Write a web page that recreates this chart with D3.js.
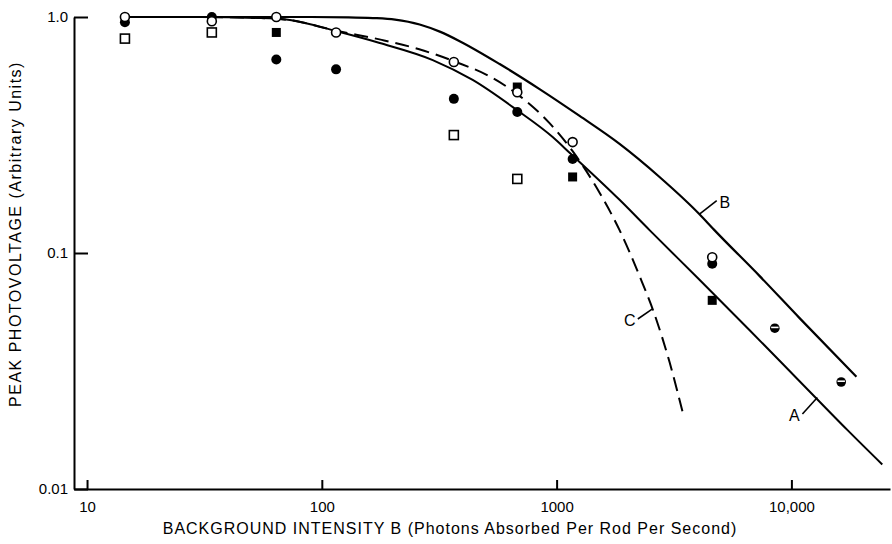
<!DOCTYPE html>
<html>
<head>
<meta charset="utf-8">
<script src="https://cdn.jsdelivr.net/npm/d3@7"></script>
<style>
  body { margin: 0; background: #fff; }
  svg { display: block; }
  text { font-family: "Liberation Sans", Arial, sans-serif; fill: #000; }
</style>
</head>
<body>
<svg id="chart" width="892" height="544"></svg>
<script>
// Axis ticks
const xTicks = [10, 100, 1000, 10000];
const xTickLabels = ["10", "100", "1000", "10,000"];
const yTicks = [0.01, 0.1, 1];
const yTickLabels = ["0.01", "0.1", "1.0"];

// Measured peak photovoltage vs background intensity, one array per symbol
const openCircles = [
  [14.5, 1.0], [34, 0.96], [64, 1.0], [115, 0.86], [365, 0.645],
  [680, 0.48], [1170, 0.295], [4600, 0.096]
];
const filledCircles = [
  [14.5, 0.95], [34, 1.0], [64, 0.66], [115, 0.60], [365, 0.45],
  [680, 0.396], [1170, 0.25], [4600, 0.09]
];
const openSquares = [
  [14.5, 0.81], [34, 0.86], [365, 0.316], [680, 0.206]
];
const filledSquares = [
  [64, 0.86], [680, 0.505], [1170, 0.21], [4600, 0.063]
];
const halfCircles = [
  [8500, 0.048], [16300, 0.0284]
];

// Theoretical curves A, B (solid) and C (dashed)
const curveA = [
  [14.5, 1.0], [30.3, 1.0], [54.5, 0.99], [73.1, 0.971], [114.7, 0.872],
  [176.5, 0.776], [296.8, 0.657], [439, 0.541], [676, 0.404], [962, 0.310],
  [1136, 0.266], [1854, 0.168], [2488, 0.125], [4060, 0.077], [6625, 0.0472],
  [10810, 0.0287], [17300, 0.0178], [24380, 0.0127]
];
const curveB = [
  [14.5, 1.0], [90, 1.0], [130, 0.997], [165, 0.99], [205, 0.975],
  [261, 0.930], [320, 0.865], [386.5, 0.790], [572, 0.632], [846, 0.495],
  [1253, 0.381], [1854, 0.290], [2744, 0.210], [4060, 0.146], [4701, 0.125],
  [7311, 0.080], [10810, 0.0531], [18920, 0.0299]
];
const curveC = [
  [14.5, 1.0], [30, 1.0], [55, 0.99], [73, 0.97], [115, 0.875],
  [180, 0.80], [260, 0.73], [372, 0.645], [519, 0.56], [682, 0.47],
  [933, 0.355], [1170, 0.27], [1524, 0.18], [1854, 0.125], [2254, 0.08],
  [2612, 0.055], [3027, 0.0345], [3436, 0.0213]
];

// Curve labels: text anchor and the point on the curve the leader touches
const curveLabels = [
  { name: "A", at: [10300, 0.0206], to: [12900, 0.0244] },
  { name: "B", at: [5200, 0.165], to: [4060, 0.146] },
  { name: "C", at: [2050, 0.052], to: [2560, 0.058] }
];

const svg = d3.select("#chart");

const x = d3.scaleLog().domain([8.8, 26300]).range([74, 890]);
const y = d3.scaleLog().domain([0.01, 1]).range([489, 17]);

// X axis (ticks point up into the plot)
const xAxis = d3.axisBottom(x)
  .tickValues(xTicks)
  .tickFormat((d, i) => xTickLabels[i])
  .tickSizeInner(-9)
  .tickSizeOuter(0)
  .tickPadding(12);

const gx = svg.append("g")
  .attr("transform", `translate(0,${y(0.01)})`)
  .call(xAxis);
gx.select(".domain").attr("stroke", "#000").attr("stroke-width", 2);
gx.selectAll(".tick line").attr("stroke", "#000").attr("stroke-width", 2);
gx.selectAll(".tick text")
  .style("font-family", "'Liberation Sans', Arial, sans-serif")
  .attr("font-size", 15);

// Y axis (ticks point right into the plot)
const yAxis = d3.axisLeft(y)
  .tickValues(yTicks)
  .tickFormat((d, i) => yTickLabels[i])
  .tickSizeInner(-14)
  .tickSizeOuter(0)
  .tickPadding(6);

const gy = svg.append("g")
  .attr("transform", `translate(${x(8.8)},0)`)
  .call(yAxis);
gy.select(".domain").attr("stroke", "#000").attr("stroke-width", 2);
gy.selectAll(".tick line").attr("stroke", "#000").attr("stroke-width", 2);
gy.selectAll(".tick text")
  .style("font-family", "'Liberation Sans', Arial, sans-serif")
  .attr("font-size", 15);

// Axis titles
svg.append("text")
  .attr("x", 450).attr("y", 534)
  .attr("text-anchor", "middle")
  .attr("font-size", 16)
  .attr("letter-spacing", 1.0)
  .text("BACKGROUND  INTENSITY  B  (Photons Absorbed Per Rod Per Second)");

svg.append("text")
  .attr("transform", "translate(21,234) rotate(-90)")
  .attr("text-anchor", "middle")
  .attr("font-size", 16)
  .attr("letter-spacing", 1.5)
  .text("PEAK  PHOTOVOLTAGE  (Arbitrary Units)");

// Curves
const line = d3.line()
  .x(d => x(d[0]))
  .y(d => y(d[1]))
  .curve(d3.curveMonotoneX);

svg.append("path").datum(curveC)
  .attr("fill", "none").attr("stroke", "#000")
  .attr("stroke-width", 2).attr("stroke-dasharray", "14,7")
  .attr("d", line);

svg.append("path").datum(curveA)
  .attr("fill", "none").attr("stroke", "#000")
  .attr("stroke-width", 2).attr("d", line);

svg.append("path").datum(curveB)
  .attr("fill", "none").attr("stroke", "#000")
  .attr("stroke-width", 2.2).attr("d", line);

// Curve labels with leaders
curveLabels.forEach(l => {
  const tx = x(l.at[0]), ty = y(l.at[1]);
  svg.append("text")
    .attr("x", tx).attr("y", ty + 6)
    .attr("text-anchor", "middle")
    .attr("font-size", 16)
    .text(l.name);
  svg.append("line")
    .attr("x1", tx + (x(l.to[0]) > tx ? 8 : -8)).attr("y1", ty - 1)
    .attr("x2", x(l.to[0])).attr("y2", y(l.to[1]))
    .attr("stroke", "#000").attr("stroke-width", 1.6);
});

// Data symbols
const r = 4.5, s = 9;

svg.append("g").selectAll("rect").data(openSquares).join("rect")
  .attr("x", d => x(d[0]) - s / 2).attr("y", d => y(d[1]) - s / 2)
  .attr("width", s).attr("height", s)
  .attr("fill", "#fff").attr("stroke", "#000").attr("stroke-width", 1.6);

svg.append("g").selectAll("rect").data(filledSquares).join("rect")
  .attr("x", d => x(d[0]) - s / 2).attr("y", d => y(d[1]) - s / 2)
  .attr("width", s).attr("height", s)
  .attr("fill", "#000");

svg.append("g").selectAll("circle").data(filledCircles).join("circle")
  .attr("cx", d => x(d[0])).attr("cy", d => y(d[1])).attr("r", r + 0.5)
  .attr("fill", "#000");

svg.append("g").selectAll("circle").data(openCircles).join("circle")
  .attr("cx", d => x(d[0])).attr("cy", d => y(d[1])).attr("r", r)
  .attr("fill", "#fff").attr("stroke", "#000").attr("stroke-width", 1.6);

const half = svg.append("g").selectAll("g").data(halfCircles).join("g")
  .attr("transform", d => `translate(${x(d[0])},${y(d[1])})`);
half.append("circle").attr("r", r + 0.3).attr("fill", "#000");
half.append("rect")
  .attr("x", -r + 0.8).attr("y", -1.6).attr("width", 2 * r - 1.6).attr("height", 1.6)
  .attr("fill", "#fff");
</script>
</body>
</html>
